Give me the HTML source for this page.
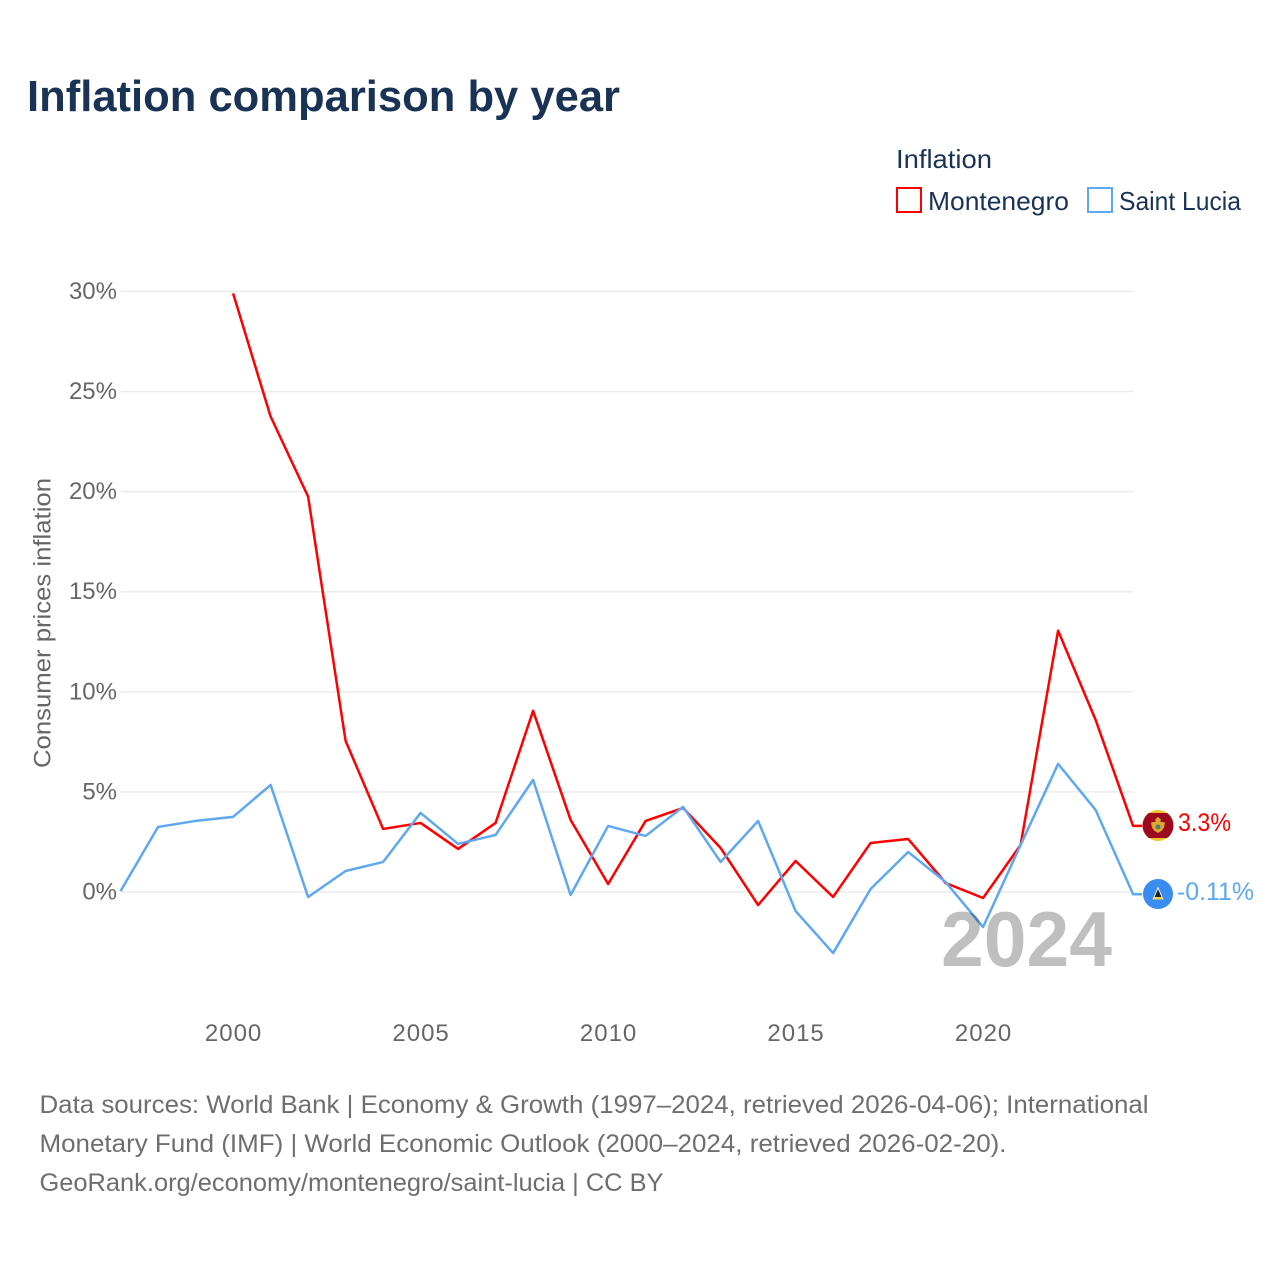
<!DOCTYPE html>
<html lang="en">
<head>
<meta charset="utf-8">
<title>Inflation comparison by year</title>
<style>
html,body{margin:0;padding:0;background:#fff;width:1280px;height:1280px;overflow:hidden}
svg{display:block}
text{font-family:"Liberation Sans",Arial,sans-serif}
</style>
</head>
<body>
<svg id="chart" width="1280" height="1280" viewBox="0 0 1280 1280" xmlns="http://www.w3.org/2000/svg">
  <defs>
    <clipPath id="flag-clip-me"><circle cx="1158" cy="825.500" r="15.500"/></clipPath>
  </defs>
  <rect width="1280" height="1280" fill="#fff"/>
  <text x="27" y="111" font-size="44" font-weight="700" fill="#1a3355" textLength="593" lengthAdjust="spacingAndGlyphs">Inflation comparison by year</text>
  <g>
    <text x="896" y="168" font-size="26" fill="#1a3355" textLength="96" lengthAdjust="spacingAndGlyphs">Inflation</text>
    <g>
      <rect x="897" y="188" width="24" height="24" fill="none" stroke="#ff0000" stroke-width="2"/>
      <text x="928" y="210" font-size="26" fill="#1a3355" textLength="141" lengthAdjust="spacingAndGlyphs">Montenegro</text>
    </g>
    <g>
      <rect x="1088" y="188" width="24" height="24" fill="none" stroke="#5ea8f0" stroke-width="2"/>
      <text x="1119" y="210" font-size="26" fill="#1a3355" textLength="122" lengthAdjust="spacingAndGlyphs">Saint Lucia</text>
    </g>
  </g>
  <text transform="translate(50.500 768) rotate(-90)" font-size="24.500" fill="#666" textLength="290" lengthAdjust="spacingAndGlyphs">Consumer prices inflation</text>
  <g id="grid"></g>
  <g id="yticks"></g>
  <g id="xticks"></g>
  <g id="series"></g>
  <text x="941" y="966" font-size="78" font-weight="700" fill="#000" fill-opacity="0.25" textLength="171" lengthAdjust="spacingAndGlyphs">2024</text>
  <g clip-path="url(#flag-clip-me)">
    <rect x="1142" y="810" width="32" height="32" fill="#f2c230"/>
    <rect x="1142" y="813" width="32" height="25" fill="#9d0a20"/>
    <path d="M1158 817l3 2.500-1 2 5 1-1 5-2 3-4 2.500-4-2.500-2-3-1-5 5-1-1-2z" fill="#d9a92c"/>
    <circle cx="1158" cy="827" r="2.500" fill="#5c7d6a"/>
  </g>
  <g>
    <circle cx="1158" cy="894" r="15" fill="#3a8df0"/>
    <path d="M1158 886.500l5.500 13h-11z" fill="#fff"/>
    <path d="M1158 889l3.500 8h-7z" fill="#222"/>
    <path d="M1154.500 897l-2 2.500h11l-2-2.500z" fill="#f7d154"/>
  </g>
  <text id="label-me" x="1178" y="831" font-size="25" fill="#ff0000" textLength="53" lengthAdjust="spacingAndGlyphs"></text>
  <text id="label-lc" x="1177" y="900" font-size="25" fill="#5ea8f0" textLength="77" lengthAdjust="spacingAndGlyphs"></text>
  <g font-size="25" fill="#6e6e6e">
    <text x="39.500" y="1113" textLength="1109" lengthAdjust="spacingAndGlyphs">Data sources: World Bank | Economy &amp; Growth (1997–2024, retrieved 2026-04-06); International</text>
    <text x="39.500" y="1152" textLength="967" lengthAdjust="spacingAndGlyphs">Monetary Fund (IMF) | World Economic Outlook (2000–2024, retrieved 2026-02-20).</text>
    <text x="39.500" y="1191" textLength="624" lengthAdjust="spacingAndGlyphs">GeoRank.org/economy/montenegro/saint-lucia | CC BY</text>
  </g>
</svg>
<script>
const years = [1997,1998,1999,2000,2001,2002,2003,2004,2005,2006,2007,2008,2009,2010,2011,2012,2013,2014,2015,2016,2017,2018,2019,2020,2021,2022,2023,2024];
const montenegro = [null,null,null,29.9,23.75,19.75,7.55,3.15,3.45,2.15,3.45,9.05,3.6,0.4,3.55,4.2,2.2,-0.65,1.55,-0.25,2.45,2.65,0.45,-0.3,2.35,13.05,8.6,3.3];
const saintLucia = [0.05,3.25,3.55,3.75,5.35,-0.25,1.05,1.5,3.95,2.4,2.85,5.6,-0.15,3.3,2.8,4.25,1.5,3.55,-0.95,-3.05,0.15,2.0,0.5,-1.75,2.35,6.4,4.1,-0.11];
const yTicks = [0,5,10,15,20,25,30];
const xTicks = [2000,2005,2010,2015,2020];
const endLabelMontenegro = '3.3%';
const endLabelSaintLucia = '-0.11%';

const NS = 'http://www.w3.org/2000/svg';
const xScale = function (year) { return 233.1 + (year - 2000) * 37.5; };
const yScale = function (value) { return 892 - value * 20.02; };

function make(tag, parent) {
  const el = document.createElementNS(NS, tag);
  parent.appendChild(el);
  return el;
}

const gridGroup = document.getElementById('grid');
const yTickGroup = document.getElementById('yticks');
yTicks.forEach(function (tick) {
  const line = make('line', gridGroup);
  
  
  line.setAttribute('x1', xScale(years[0]));
  line.setAttribute('x2', xScale(years[years.length - 1]));
  line.setAttribute('y1', yScale(tick));
  line.setAttribute('y2', yScale(tick));
  line.setAttribute('stroke', '#ebebeb');
  line.setAttribute('stroke-width', '1.5');
  const label = make('text', yTickGroup);
  
  
  label.setAttribute('x', 117);
  label.setAttribute('y', yScale(tick) + 7.5);
  label.setAttribute('text-anchor', 'end');
  label.setAttribute('font-size', '24');
  label.setAttribute('fill', '#666');
  label.textContent = tick + '%';
});

const xTickGroup = document.getElementById('xticks');
xTicks.forEach(function (tick) {
  const label = make('text', xTickGroup);
  
  
  label.setAttribute('x', xScale(tick) + 0.5);
  label.setAttribute('y', 1041);
  label.setAttribute('text-anchor', 'middle');
  label.setAttribute('font-size', '24');
  label.setAttribute('letter-spacing', '1');
  label.setAttribute('fill', '#666');
  label.textContent = String(tick);
});

function drawSeries(values, color, name) {
  const group = document.getElementById('series');
  const points = [];
  values.forEach(function (value, i) {
    if (value !== null) points.push(xScale(years[i]).toFixed(2) + ',' + yScale(value).toFixed(2));
  });
  const last = values[values.length - 1];
  points.push((xScale(years[years.length - 1]) + 9).toFixed(2) + ',' + yScale(last).toFixed(2));
  const line = make('polyline', group);
  
  
  line.setAttribute('points', points.join(' '));
  line.setAttribute('fill', 'none');
  line.setAttribute('stroke', color);
  line.setAttribute('stroke-width', '2.5');
  line.setAttribute('stroke-linejoin', 'round');
}
drawSeries(montenegro, '#ff0000', 'line-montenegro');
drawSeries(saintLucia, '#5ea8f0', 'line-saint-lucia');

document.getElementById('label-me').textContent = endLabelMontenegro;
document.getElementById('label-lc').textContent = endLabelSaintLucia;
</script>
</body>
</html>
